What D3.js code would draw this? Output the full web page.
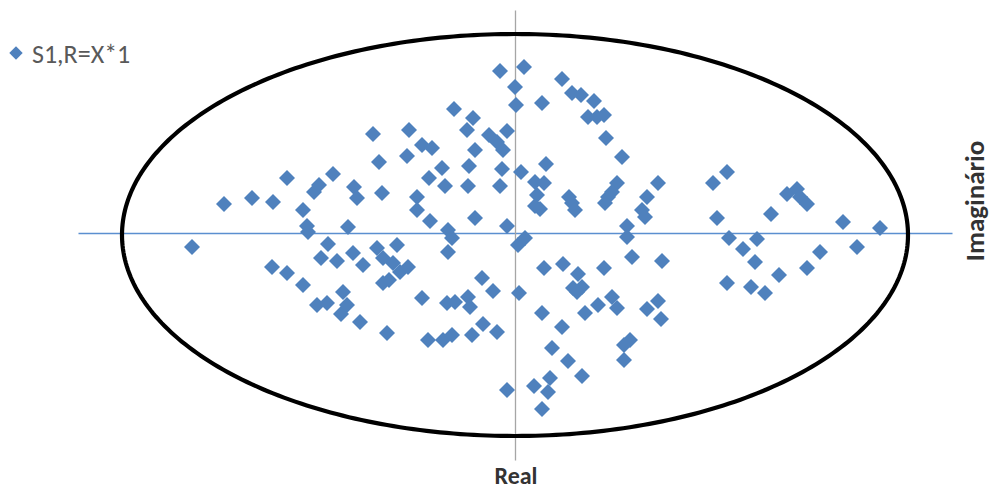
<!DOCTYPE html>
<html>
<head>
<meta charset="utf-8">
<script src="https://cdn.jsdelivr.net/npm/d3@7"></script>
<style>
  html, body { margin: 0; padding: 0; background: #ffffff; }
  svg { display: block; }
</style>
</head>
<body>
<svg id="chart" width="992" height="491"></svg>
<script>
// ---- data ----
const seriesName = "S1,R=X*1";
const xTitle = "Real";
const yTitle = "Imaginário";

const realValues = [
  -29.1, -26.3, -24.2, -22.8, -21.2, -20.8, -20.7, -20.1, -19.6, -18.2,
  -16.1, -15.8, -16.7, -14.2, -10.6, -13.6, -10.8, -9.3, -8.3, -7.3,
  -8.6, -7.0, -4.6, -4.0, -1.3, -1.5, -4.7, -9.8, -9.8, -8.5,
  -13.3, -6.7, -4.0, -0.8, -1.5, 0.0, 0.1, -6.1, -4.2, -4.8,
  -0.8, -2.6, -1.8, -1.2, 0.6, 0.9, 2.7, 4.7, 5.7, 6.6,
  7.9, 7.3, 8.2, 8.9, 9.1, 10.7, 3.1, 2.0, 2.9, 2.2,
  2.0, 2.5, 5.4, 5.7, 6.0, 10.2, 9.7, 9.3, 9.0, 14.3,
  13.2, 12.7, 13.0, 11.2, 19.8, 21.2, 20.2, 25.6, 27.2, 28.2,
  28.5, 29.2, 32.8, 36.5,
  -32.3, -24.3, -22.8, -21.2, -18.7, -19.4, -17.8, -19.8, -18.8, -17.2,
  -17.4, -16.8, -16.2, -15.2, -13.8, -11.8, -13.2, -12.2, -11.5, -10.7,
  -13.2, -12.6, -15.5, -12.8, -9.3, -6.8, -6.0, -4.7, -4.5, -3.3,
  -2.2, -8.7, -7.2, -6.3, -4.3, -3.2, -1.8, -6.7, -6.3, -0.8,
  0.4, 0.3,
  1.0, 2.9, 4.8, 6.3, 5.8, 6.7, 6.2, 8.9, 2.7, 4.7,
  7.0, 8.3, 9.7, 10.2, 11.7, 11.2, 14.7, 13.2, 14.3, 14.6,
  11.5, 10.9, 10.9, 3.7, 5.3, 6.7, 3.5, 1.9, 3.3, 2.7,
  21.4, 22.8, 24.2, 24.0, 21.2, 23.6, 25.0, 26.4, 29.2, 30.5,
  34.2
];
const imagValues = [
  2.9, 3.5, 3.1, 5.5, 2.3, 0.7, 0.1, 4.1, 4.8, 5.9,
  4.6, 3.5, 0.6, 9.9, 10.3, 7.1, 7.7, 8.8, 8.5, 6.5,
  5.5, 4.7, 6.7, 8.3, 6.4, 4.7, 4.7, 3.6, 2.3, 1.2,
  4.0, 0.3, 1.5, 0.7, 16.2, 14.6, 12.8, 12.4, 11.5, 10.3,
  10.2, 9.8, 9.1, 8.3, 6.1, 16.6, 13.0, 15.4, 14.0, 13.8,
  13.2, 11.6, 11.6, 11.8, 9.5, 7.6, 6.9, 5.1, 5.0, 3.8,
  2.7, 2.4, 3.6, 3.0, 2.3, 5.0, 4.1, 3.6, 3.0, 5.0,
  3.6, 2.3, 1.6, 0.7, 5.0, 6.1, 1.5, 1.9, 3.9, 4.4,
  3.6, 2.9, 1.1, 0.5,
  -1.4, -3.4, -4.0, -5.2, -1.1, -2.5, -2.8, -7.2, -7.0, -5.9,
  -8.1, -7.2, -2.0, -3.2, -1.5, -1.2, -2.5, -3.0, -3.9, -3.4,
  -5.0, -4.7, -8.9, -10.0, -6.5, -7.0, -6.9, -6.4, -7.4, -4.5,
  -5.8, -10.7, -10.7, -10.2, -10.2, -9.1, -9.9, -1.9, -0.5, -15.7,
  -6.0, -1.2,
  -0.5, -3.5, -3.1, -4.1, -5.5, -5.4, -5.9, -3.5, -8.0, -9.4,
  -8.0, -7.2, -6.4, -7.5, -2.4, -0.4, -2.8, -7.6, -6.8, -8.6,
  -10.7, -11.2, -12.7, -11.5, -12.8, -14.3, -14.5, -15.3, -15.9, -17.6,
  -0.5, -1.6, -0.6, -2.9, -5.0, -5.4, -6.0, -4.2, -3.5, -1.9,
  -1.4
];

// boundary ellipse (in data units)
const ellipseCenter = [0, -0.2];
const ellipseRadii = [39.3, 20.1];

// ---- drawing ----
const svg = d3.select("#chart");

const x = d3.scaleLinear().domain([-43.7, 43.7]).range([78, 952]);
const y = d3.scaleLinear().domain([22.3, -22.7]).range([10, 460]);

const blue = "#4f81bd";
const font = "Carlito, Calibri, 'Open Sans', 'Liberation Sans', sans-serif";

// axes crossing at the origin
svg.append("g")
  .attr("transform", `translate(0,${y(0)})`)
  .call(d3.axisBottom(x).tickValues([]).tickSizeOuter(0))
  .call(g => g.select(".domain").attr("stroke", "#5b8fd0").attr("stroke-width", 1.3));

svg.append("g")
  .attr("transform", `translate(${x(0)},0)`)
  .call(d3.axisLeft(y).tickValues([]).tickSizeOuter(0))
  .call(g => g.select(".domain").attr("stroke", "#a6a6a6").attr("stroke-width", 1.3));

// ellipse
const angles = d3.range(0, 361, 1).map(a => a * Math.PI / 180);
const ellipseLine = d3.line()
  .x(t => x(ellipseCenter[0] + ellipseRadii[0] * Math.cos(t)))
  .y(t => y(ellipseCenter[1] + ellipseRadii[1] * Math.sin(t)))
  .curve(d3.curveLinearClosed);
svg.append("path")
  .attr("d", ellipseLine(angles))
  .attr("fill", "none")
  .attr("stroke", "#000")
  .attr("stroke-width", 4.2);

// points
const pts = realValues.map((r, i) => ({ r, im: imagValues[i] }));
const diamond = d3.symbol().type(d3.symbolSquare).size(128);
svg.append("g")
  .selectAll("path")
  .data(pts)
  .join("path")
  .attr("d", diamond)
  .attr("transform", d => `translate(${x(d.r)},${y(d.im)}) rotate(45)`)
  .attr("fill", blue);

// legend
const lg = svg.append("g").attr("transform", "translate(16,53)");
lg.append("path").attr("d", d3.symbol().type(d3.symbolSquare).size(90)())
  .attr("transform", "rotate(45)").attr("fill", blue);
lg.append("text")
  .attr("x", 16).attr("y", 10)
  .attr("font-family", font)
  .attr("font-size", 26)
  .attr("fill", "#595959")
  .text(seriesName);

// axis titles
svg.append("text")
  .attr("x", x(0) + 1).attr("y", 484)
  .attr("text-anchor", "middle")
  .attr("font-family", font)
  .attr("font-weight", "bold")
  .attr("font-size", 24)
  .attr("fill", "#333333")
  .text(xTitle);

svg.append("text")
  .attr("transform", `translate(984,${201}) rotate(-90)`)
  .attr("text-anchor", "middle")
  .attr("font-family", font)
  .attr("font-weight", "bold")
  .attr("font-size", 27)
  .attr("fill", "#333333")
  .text(yTitle);
</script>
</body>
</html>
